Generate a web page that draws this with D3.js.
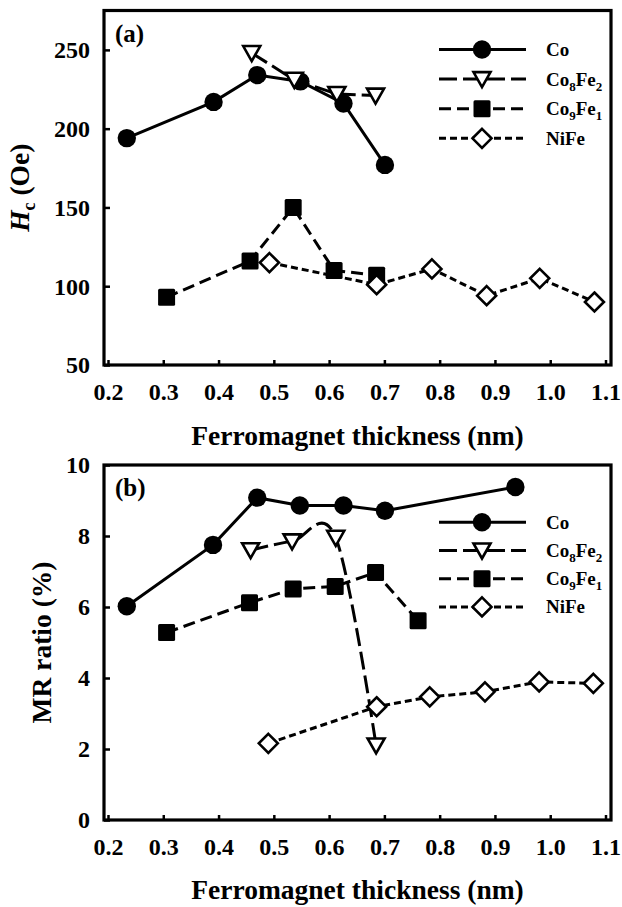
<!DOCTYPE html>
<meta charset="utf-8">
<style>
  body { margin: 0; background: #fff; }
  svg text { font-family: "Liberation Serif", "DejaVu Serif", "Times New Roman", Times, serif; font-weight: bold; fill: #000; }
</style>
<body>
<script src="https://d3js.org/d3.v7.min.js"></script>
<script>
    var width = 622,
        height = 907;

    // x values are the ferromagnet thickness (nm)
    var xTicks = [0.2, 0.3, 0.4, 0.5, 0.6, 0.7, 0.8, 0.9, 1.0, 1.1];
    var hcTicks = [50, 100, 150, 200, 250];
    var mrTicks = [0, 2, 4, 6, 8, 10];

    // (a) coercivity Hc (Oe)
    var coHcX = [0.234, 0.391, 0.470, 0.548, 0.626, 0.701],
        coHc = [194, 217, 234, 230, 216, 177];
    var co8fe2HcX = [0.460, 0.537, 0.614, 0.684],
        co8fe2Hc = [248, 231, 222, 221];
    var co9fe1HcX = [0.306, 0.457, 0.535, 0.609, 0.686],
        co9fe1Hc = [93, 116, 150, 110, 107];
    var nifeHcX = [0.492, 0.686, 0.786, 0.885, 0.981, 1.080],
        nifeHc = [115, 101, 111, 94, 105, 90];

    // (b) MR ratio (%)
    var coMrX = [0.234, 0.390, 0.470, 0.547, 0.626, 0.701, 0.937],
        coMr = [6.02, 7.75, 9.08, 8.86, 8.86, 8.71, 9.38];
    var co8fe2MrX = [0.458, 0.533, 0.612, 0.685],
        co8fe2Mr = [7.6, 7.85, 7.95, 2.1];
    var co9fe1MrX = [0.306, 0.456, 0.535, 0.611, 0.684, 0.761],
        co9fe1Mr = [5.28, 6.12, 6.51, 6.58, 6.97, 5.61];
    var nifeMrX = [0.490, 0.686, 0.782, 0.882, 0.980, 1.078],
        nifeMr = [2.16, 3.19, 3.47, 3.61, 3.89, 3.85];

    // legend entries: [main, sub, main, sub]
    var legendLabels = [
        ["Co"],
        ["Co", "8", "Fe", "2"],
        ["Co", "9", "Fe", "1"],
        ["NiFe"]
    ];

    var styles = [
        {marker: "circle", dash: null},
        {marker: "triangle", dash: "18,6"},
        {marker: "square", dash: "12,6"},
        {marker: "diamond", dash: "7,4"}
    ];

    var frameL = 104, frameR = 611;
    var fontStack = '"Liberation Serif", "DejaVu Serif", "Times New Roman", Times, serif';

    var svg = d3.select("body").append("svg")
        .attr("width", width)
        .attr("height", height)
        .attr("font-family", fontStack);

    var x = d3.scaleLinear().domain([0.2, 1.1]).range([108, 605.5]);

    var straight = d3.line(),
        smooth = d3.line().curve(d3.curveCatmullRom.alpha(0));

    function zip(xs, ys) {
        return xs.map(function (v, i) { return [v, ys[i]]; });
    }

    function drawMarker(g, type, cx, cy) {
        if (type === "circle") {
            g.append("circle").attr("cx", cx).attr("cy", cy).attr("r", 9.2)
                .attr("fill", "#000");
        } else if (type === "square") {
            g.append("rect").attr("x", cx - 8.5).attr("y", cy - 8.5)
                .attr("width", 17).attr("height", 17).attr("rx", 1.5)
                .attr("fill", "#000");
        } else if (type === "triangle") {
            g.append("path")
                .attr("d", "M" + (cx - 8.5) + "," + (cy - 7) + "L" + (cx + 8.5) + "," + (cy - 7) +
                    "L" + cx + "," + (cy + 8) + "Z")
                .attr("fill", "#fff").attr("stroke", "#000").attr("stroke-width", 2.6);
        } else {
            g.append("path")
                .attr("d", "M" + cx + "," + (cy - 9.5) + "L" + (cx + 9.5) + "," + cy +
                    "L" + cx + "," + (cy + 9.5) + "L" + (cx - 9.5) + "," + cy + "Z")
                .attr("fill", "#fff").attr("stroke", "#000").attr("stroke-width", 2.6);
        }
    }

    function panel(opts) {
        var y = d3.scaleLinear().domain(opts.yDomain).range(opts.yRange);
        var g = svg.append("g");
        var top = y(opts.yDomain[1]), bottom = y(opts.yDomain[0]);

        // axes (ticks point inward)
        g.append("g")
            .attr("transform", "translate(" + frameL + ",0)")
            .call(d3.axisLeft(y).tickValues(opts.yTicks).tickSize(-6).tickPadding(14))
            .call(function (a) {
                a.attr("font-family", fontStack);
                a.select(".domain").remove();
                a.selectAll("line").attr("stroke-width", 2.5);
                a.selectAll("text").attr("font-size", 24).attr("dy", "0.33em");
            });
        g.append("g")
            .attr("transform", "translate(0," + bottom + ")")
            .call(d3.axisBottom(x).tickValues(xTicks).tickSize(-5).tickPadding(17.5)
                .tickFormat(d3.format(".1f")))
            .call(function (a) {
                a.attr("font-family", fontStack);
                a.select(".domain").remove();
                a.selectAll("line").attr("stroke-width", 2.5);
                a.selectAll("text").attr("font-size", 24);
            });

        g.append("rect")
            .attr("x", frameL).attr("y", top)
            .attr("width", frameR - frameL).attr("height", bottom - top)
            .attr("fill", "none").attr("stroke", "#000").attr("stroke-width", 3.2);

        // series
        opts.series.forEach(function (s, i) {
            var st = styles[i];
            var pts = zip(s[0], s[1]).map(function (p) { return [x(p[0]), y(p[1])]; });
            var sg = g.append("g");
            sg.append("path")
                .attr("d", (opts.smooth[i] ? smooth : straight)(pts))
                .attr("fill", "none").attr("stroke", "#000").attr("stroke-width", 3)
                .attr("stroke-dasharray", st.dash);
            pts.forEach(function (p) { drawMarker(sg, st.marker, p[0], p[1]); });
        });

        // legend
        var lg = g.append("g");
        legendLabels.forEach(function (lab, i) {
            var ly = opts.legendY + i * opts.legendStep;
            var st = styles[i];
            lg.append("line")
                .attr("x1", 439).attr("x2", 526).attr("y1", ly).attr("y2", ly)
                .attr("stroke", "#000").attr("stroke-width", 3)
                .attr("stroke-dasharray", st.dash);
            drawMarker(lg, st.marker, 482, ly);
            var t = lg.append("text").attr("x", 546).attr("y", ly + 6.5).attr("font-size", 19);
            lab.forEach(function (part, k) {
                var ts = t.append("tspan").text(part);
                if (k % 2 === 1) {
                    ts.attr("font-size", 13).attr("dy", 5);
                } else if (k > 0) {
                    ts.attr("dy", -5);
                }
            });
        });

        // panel label
        g.append("text").attr("x", 115).attr("y", top + 31).attr("font-size", 25).text(opts.tag);

        // x axis title
        g.append("text")
            .attr("x", (frameL + frameR) / 2).attr("y", opts.xTitleY)
            .attr("text-anchor", "middle").attr("font-size", 27.5)
            .text("Ferromagnet thickness (nm)");

        // y axis title
        var yt = g.append("text")
            .attr("transform", "translate(" + opts.yTitleX + "," + (top + bottom) / 2 + ") rotate(-90)")
            .attr("text-anchor", "middle").attr("font-size", 27.5);
        opts.yTitle(yt);
    }

    panel({
        yDomain: [50, 275], yRange: [365, 10.5], yTicks: hcTicks,
        series: [[coHcX, coHc], [co8fe2HcX, co8fe2Hc], [co9fe1HcX, co9fe1Hc], [nifeHcX, nifeHc]],
        smooth: [false, false, false, false],
        legendY: 49.5, legendStep: 29.6, tag: "(a)", xTitleY: 445, yTitleX: 29,
        yTitle: function (t) {
            t.append("tspan").attr("font-style", "italic").text("H");
            t.append("tspan").attr("font-size", 18).attr("dy", 6).text("c");
            t.append("tspan").attr("dy", -6).text(" (Oe)");
        }
    });

    panel({
        yDomain: [0, 10], yRange: [820, 465], yTicks: mrTicks,
        series: [[coMrX, coMr], [co8fe2MrX, co8fe2Mr], [co9fe1MrX, co9fe1Mr], [nifeMrX, nifeMr]],
        smooth: [false, true, false, false],
        legendY: 522.3, legendStep: 28.2, tag: "(b)", xTitleY: 899, yTitleX: 51,
        yTitle: function (t) {
            t.text("MR ratio (%)");
        }
    });
</script>
</body>
</html>
